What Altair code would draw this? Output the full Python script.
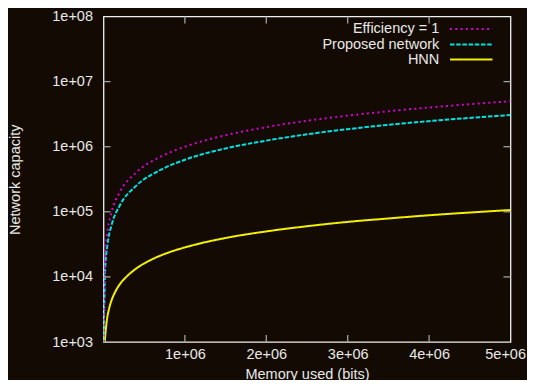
import altair as alt
import pandas as pd

# ---- data ----
series_names = ["Efficiency = 1", "Proposed network", "HNN"]

mem_eff = [1e3, 2e4, 5e4, 1e5, 2e5, 4e5, 7e5, 1e6, 1.5e6, 2e6, 2.5e6, 3e6, 3.5e6, 4e6, 4.5e6, 5e6]
cap_eff = [1e3, 2e4, 5e4, 1e5, 2e5, 4e5, 7e5, 1e6, 1.5e6, 2e6, 2.5e6, 3e6, 3.5e6, 4e6, 4.5e6, 5e6]

mem_prop = [1.6e3, 2e4, 5e4, 1e5, 2e5, 4e5, 7e5, 1e6, 1.5e6, 2e6, 2.5e6, 3e6, 3.5e6, 4e6, 4.5e6, 5e6]
cap_prop = [1.0e3, 1.3e4, 3.2e4, 6.3e4, 1.25e5, 2.5e5, 4.4e5, 6.3e5, 9.4e5, 1.24e6, 1.55e6, 1.86e6,
            2.17e6, 2.47e6, 2.77e6, 3.06e6]

mem_hnn = [1.5e4, 2.5e4, 4e4, 7e4, 1e5, 1.5e5, 2e5, 2.8e5, 4e5, 6e5, 8e5, 1e6, 1.5e6, 2e6, 2.5e6,
           3e6, 3.5e6, 4e6, 4.5e6, 5e6]
cap_hnn = [1.0e3, 1.4e3, 2.1e3, 3.3e3, 4.4e3, 6.1e3, 7.7e3, 1.0e4, 1.34e4, 1.87e4, 2.37e4, 2.84e4,
           3.96e4, 5.0e4, 6.0e4, 7.0e4, 7.9e4, 8.85e4, 9.75e4, 1.065e5]

x_tick_values = [1e6, 2e6, 3e6, 4e6, 5e6]
y_tick_values = [1e3, 1e4, 1e5, 1e6, 1e7, 1e8]

# ---- style ----
BG = "#130b03"
FG = "#e8e8e8"
TICK = "#a0a0a0"
FONT = "Liberation Sans"
FS = 14.5
W, H = 407, 325.5
colors = ["#d800d8", "#00e2e2", "#f2f000"]
dashes = [[2, 3.3], [4.5, 1.7], [1, 0]]
legend_y = [12.6, 28.0, 43.0]

xscale = alt.Scale(domain=[0, 5e6], nice=False, zero=False)
yscale = alt.Scale(type="log", domain=[1e3, 1e8], nice=False)

xaxis = alt.Axis(values=x_tick_values, labelExpr="datum.value/1000000 + 'e+06'",
                 title="Memory used (bits)", grid=False, ticks=False, domain=False,
                 labelPadding=5, labelFontSize=FS, labelColor=FG, labelFont=FONT,
                 labelFlush=True, labelFlushOffset=15,
                 titleFontSize=FS, titleFontWeight="normal", titleColor=FG, titleFont=FONT,
                 titleY=32, titleBaseline="middle")
yaxis = alt.Axis(values=y_tick_values, labelExpr="'1e+0' + round(log(datum.value)/LN10)",
                 title="Network capacity", grid=False, ticks=False, domain=False,
                 labelPadding=11, labelFontSize=FS, labelColor=FG, labelFont=FONT,
                 titleFontSize=FS, titleFontWeight="normal", titleColor=FG, titleFont=FONT,
                 titleX=-88, titleY=H / 2, titleAngle=-90, titleAlign="center",
                 titleBaseline="middle")

layers = []

series_data = [(mem_eff, cap_eff), (mem_prop, cap_prop), (mem_hnn, cap_hnn)]
for i in [2, 1, 0]:
    m, c = series_data[i]
    df = pd.DataFrame({"m": m, "c": c})
    layers.append(
        alt.Chart(df).mark_line(color=colors[i], strokeDash=dashes[i], strokeWidth=2,
                                interpolate="monotone", clip=True)
        .encode(x=alt.X("m:Q", scale=xscale, axis=xaxis),
                y=alt.Y("c:Q", scale=yscale, axis=yaxis))
    )

# inward ticks (gnuplot style, mirrored)
xt = pd.DataFrame({"m": x_tick_values[:-1]})
for y0, y1 in [(H, H - 7), (0, 7)]:
    layers.append(
        alt.Chart(xt).mark_rule(color=TICK, strokeWidth=1.3)
        .encode(x=alt.X("m:Q", scale=xscale, axis=xaxis), y=alt.value(y0), y2=alt.value(y1))
    )
yt = pd.DataFrame({"c": y_tick_values[1:-1]})
for x0, x1 in [(0, 7), (W, W - 7)]:
    layers.append(
        alt.Chart(yt).mark_rule(color=TICK, strokeWidth=1.3)
        .encode(y=alt.Y("c:Q", scale=yscale, axis=yaxis), x=alt.value(x0), x2=alt.value(x1))
    )

# legend (text on the left, sample on the right)
for i, name in enumerate(series_names):
    ld = pd.DataFrame({"name": [name]})
    layers.append(
        alt.Chart(ld).mark_text(align="right", baseline="middle", fontSize=FS, font=FONT,
                                color=FG)
        .encode(x=alt.value(335.8), y=alt.value(legend_y[i]), text="name:N")
    )
    layers.append(
        alt.Chart(ld).mark_rule(color=colors[i], strokeDash=dashes[i], strokeWidth=2)
        .encode(x=alt.value(346.5), x2=alt.value(389), y=alt.value(legend_y[i]))
    )

chart = (
    alt.layer(*layers)
    .properties(width=W, height=H, background=BG,
                autosize=alt.AutoSizeParams(type="none"),
                padding={"left": 95.5, "top": 8.5, "right": 16.5, "bottom": 38})
    .configure_view(stroke="#f0f0f0", strokeWidth=1.3, fill=BG)
)

chart.save("out.html", embed_options={"renderer": "svg", "actions": False})
